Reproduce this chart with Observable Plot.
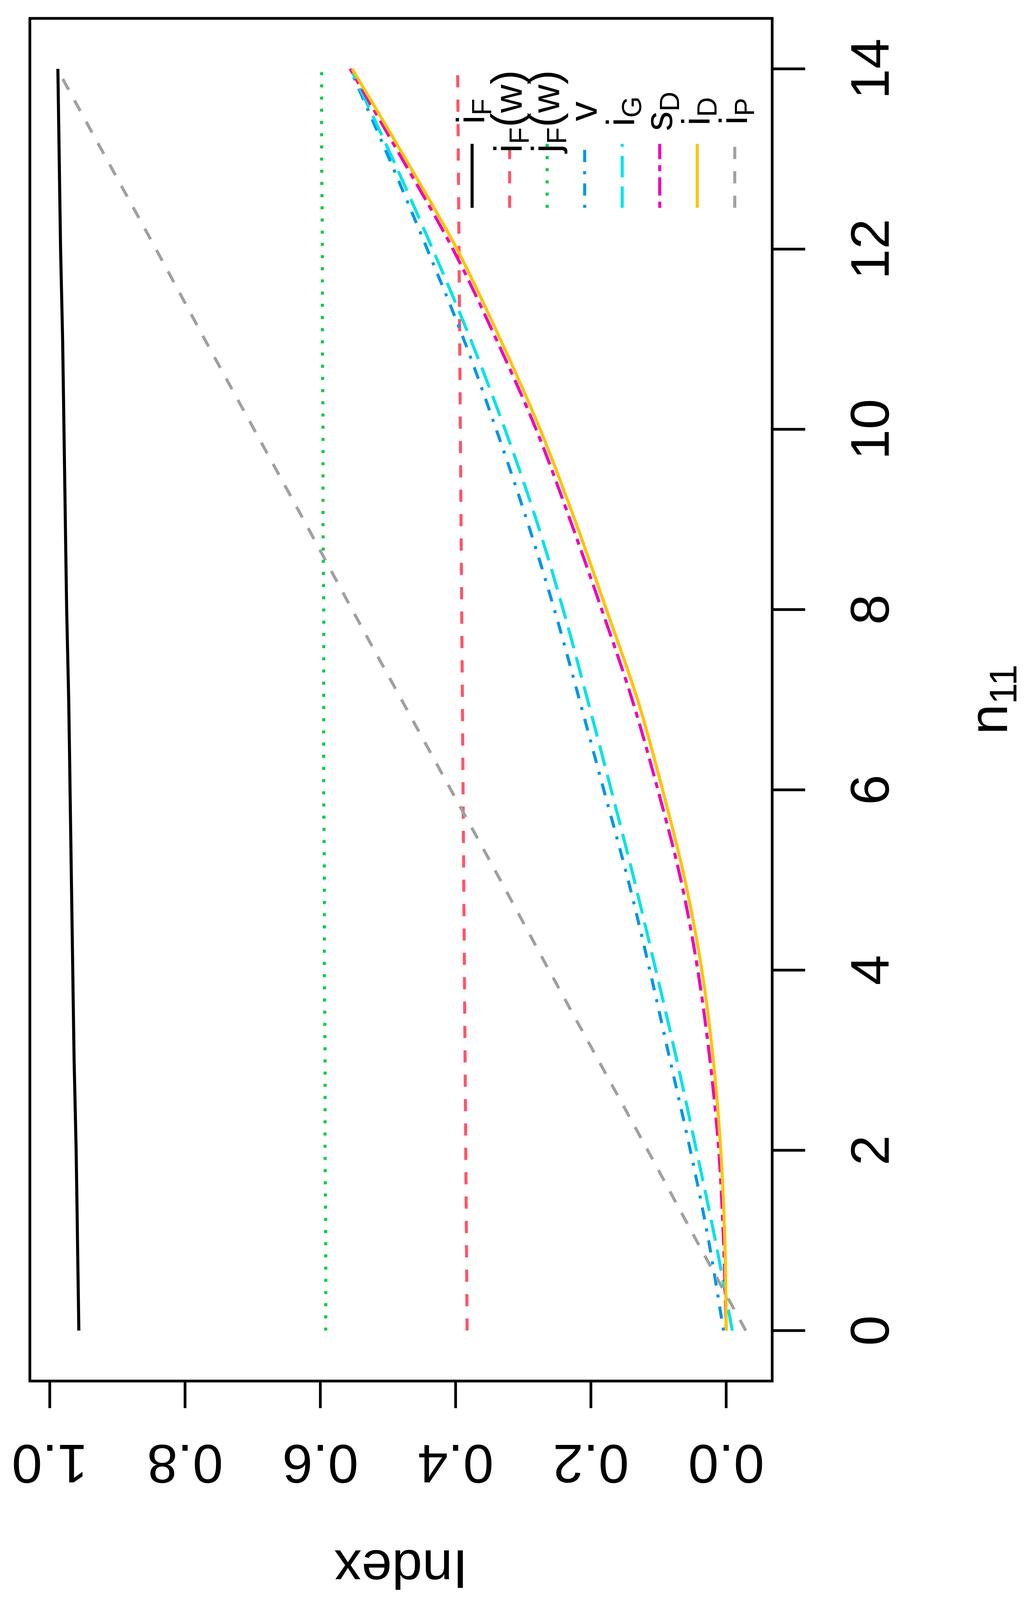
<!DOCTYPE html>
<html>
<head>
<meta charset="utf-8">
<script src="https://cdn.jsdelivr.net/npm/d3@7"></script>
<script src="https://cdn.jsdelivr.net/npm/@observablehq/plot@0.6"></script>
<style>
  html, body { margin: 0; padding: 0; background: #ffffff; overflow: hidden; }
  #chart svg { display: block; }
</style>
</head>
<body>
<div id="chart"></div>
<script>
// ---------------- data ----------------
const n11 = [0, 1, 2, 3, 4, 5, 6, 7, 8, 9, 10, 11, 12, 13, 14];
const iF  = [0.957, 0.959, 0.961, 0.964, 0.966, 0.968, 0.970, 0.972, 0.975, 0.977, 0.979, 0.981, 0.984, 0.986, 0.988];
const iFw = [0.383, 0.384, 0.385, 0.386, 0.387, 0.388, 0.389, 0.390, 0.391, 0.392, 0.393, 0.394, 0.395, 0.396, 0.397];
const jFw = [0.592, 0.592, 0.593, 0.593, 0.594, 0.594, 0.595, 0.595, 0.595, 0.596, 0.596, 0.597, 0.597, 0.598, 0.598];
const v   = [0.004, 0.026, 0.053, 0.083, 0.113, 0.145, 0.181, 0.217, 0.254, 0.295, 0.340, 0.388, 0.442, 0.498, 0.556];
const iG  = [-0.009, 0.016, 0.044, 0.073, 0.104, 0.136, 0.170, 0.205, 0.241, 0.281, 0.327, 0.378, 0.434, 0.493, 0.555];
const sD  = [0.000, 0.004, 0.011, 0.024, 0.042, 0.067, 0.101, 0.139, 0.184, 0.231, 0.281, 0.340, 0.404, 0.479, 0.556];
const iD  = [0.000, 0.002, 0.008, 0.019, 0.036, 0.061, 0.094, 0.131, 0.177, 0.224, 0.275, 0.334, 0.398, 0.474, 0.553];
const iP  = [-0.029, 0.044, 0.116, 0.189, 0.262, 0.334, 0.407, 0.480, 0.553, 0.625, 0.698, 0.771, 0.843, 0.916, 0.989];

const nTicks = [0, 2, 4, 6, 8, 10, 12, 14];
const indexTicks = [0, 0.2, 0.4, 0.6, 0.8, 1.0];
const nLabel = "n";
const nLabelSub = "11";
const indexLabel = "Index";

// legend labels as [text, role] pieces
const legendLabels = [
  [["i", "main"], ["F", "sub"]],
  [["i", "main"], ["F", "sub"], ["(", "paren"], ["w", "main"], [")", "paren"]],
  [["j", "main"], ["F", "sub"], ["(", "paren"], ["w", "main"], [")", "paren"]],
  [["v", "main"]],
  [["i", "main"], ["G", "sub"]],
  [["s", "main"], ["D", "sub"]],
  [["i", "main"], ["D", "sub"]],
  [["i", "main"], ["P", "sub"]]
];

// ---------------- styles ----------------
const seriesValues = [iF, iFw, jFw, v, iG, sD, iD, iP];
const colors = ["#000000", "#FF5468", "#00CC44", "#0096E6", "#00E3E6", "#EE00BC", "#FFC300", "#A0A0A0"];
const u = 7.8; // one R line-width unit in px
const ltys = [null, [4, 4], [1, 3], [1, 3, 4, 3], [7, 3], [2, 2, 6, 2], null, [4, 4]];
const dashes = ltys.map(d => d ? d.map(k => k * u).join(",") : undefined);
const font = "'Liberation Sans', Arial, Helvetica, sans-serif";

// Canvas: full width, height fitted to the visible window (design height 4928).
const W = 2648;
const H = Math.max(1200, Math.min(4928, window.innerHeight || 4928));
const ky = H / 4928;
const mL = 76, mR = 671;
const mT = 56 * ky, frameBottom = 4253 * ky, mB = H - frameBottom;

// The chart is an R plot turned a quarter turn counter-clockwise:
// Index runs right-to-left along the horizontal, n11 runs bottom-to-top.
const lineMarks = seriesValues.map((vals, s) =>
  Plot.line(n11.map((n, i) => ({n, v: vals[i]})), {
    x: "v", y: "n",
    curve: "catmull-rom",
    stroke: colors[s], strokeWidth: u,
    strokeDasharray: dashes[s],
    strokeLinecap: "butt", strokeLinejoin: "round"
  })
);

const plot = Plot.plot({
  width: W, height: H,
  marginLeft: mL, marginRight: mR, marginTop: mT, marginBottom: mB,
  style: {fontFamily: font, background: "#ffffff", color: "#000000", overflow: "visible"},
  x: {domain: [1.0294, -0.068]},
  y: {domain: [-0.56, 14.56]},
  marks: [
    ...lineMarks,
    // n11 axis (right side), labels read bottom-to-top
    Plot.axisY(nTicks, {anchor: "right", tickSize: 84, strokeWidth: 7, tickFormat: () => "", label: null}),
    Plot.text(nTicks, {y: d => d, text: d => String(d), frameAnchor: "right", dx: 298,
      rotate: -90, textAnchor: "middle", lineAnchor: "bottom", fontSize: 140, fill: "#000000"}),
    // Index axis (bottom), labels upside down
    Plot.axisX(indexTicks, {anchor: "bottom", tickSize: 84 * ky, strokeWidth: 7, tickFormat: () => "", label: null}),
    Plot.text(indexTicks, {x: d => d, text: d => d.toFixed(1), frameAnchor: "bottom", dy: 197 * ky,
      rotate: 180, textAnchor: "middle", lineAnchor: "bottom", fontSize: 140, fill: "#000000"}),
    Plot.text([indexLabel], {text: d => d, frameAnchor: "bottom", dy: 522 * ky,
      rotate: 180, textAnchor: "middle", lineAnchor: "bottom", fontSize: 140, fill: "#000000"}),
    Plot.frame({stroke: "#000000", strokeWidth: 7})
  ]
});

document.getElementById("chart").appendChild(plot);

const svg = d3.select(plot);

// ---------------- n11 axis title with subscript ----------------
const yc = (mT + frameBottom) / 2;
const nt = svg.append("text")
  .attr("transform", `translate(${W - mR + 602},${yc}) rotate(-90)`)
  .attr("text-anchor", "middle")
  .attr("font-family", font).attr("font-size", 140).attr("fill", "#000");
nt.append("tspan").text(nLabel);
nt.append("tspan").attr("font-size", 98).attr("dy", 24).text(nLabelSub);

// ---------------- legend (no box), rows side by side ----------------
const rowX0 = 1209, rowStep = 96.1;
const segY1 = 640 * ky, segY2 = 443 * ky, textY = 343 * ky;
const lg = svg.append("g").attr("font-family", font).attr("fill", "#000");
legendLabels.forEach((pieces, k) => {
  const x = rowX0 + k * rowStep;
  lg.append("line")
    .attr("x1", x).attr("x2", x).attr("y1", segY1).attr("y2", segY2)
    .attr("stroke", colors[k]).attr("stroke-width", u)
    .attr("stroke-dasharray", dashes[k] || null)
    .attr("stroke-linecap", "butt");
  const t = lg.append("text")
    .attr("transform", `translate(${x + 31},${textY}) rotate(-90)`)
    .attr("font-size", 100);
  let shift = 0;
  pieces.forEach(([txt, role]) => {
    const ts = t.append("tspan").text(txt);
    const target = role === "sub" ? 18 : 0;
    if (target !== shift) { ts.attr("dy", target - shift); shift = target; }
    ts.attr("font-size", role === "sub" ? 70 : role === "paren" ? 112 : 100);
  });
});
</script>
</body>
</html>
